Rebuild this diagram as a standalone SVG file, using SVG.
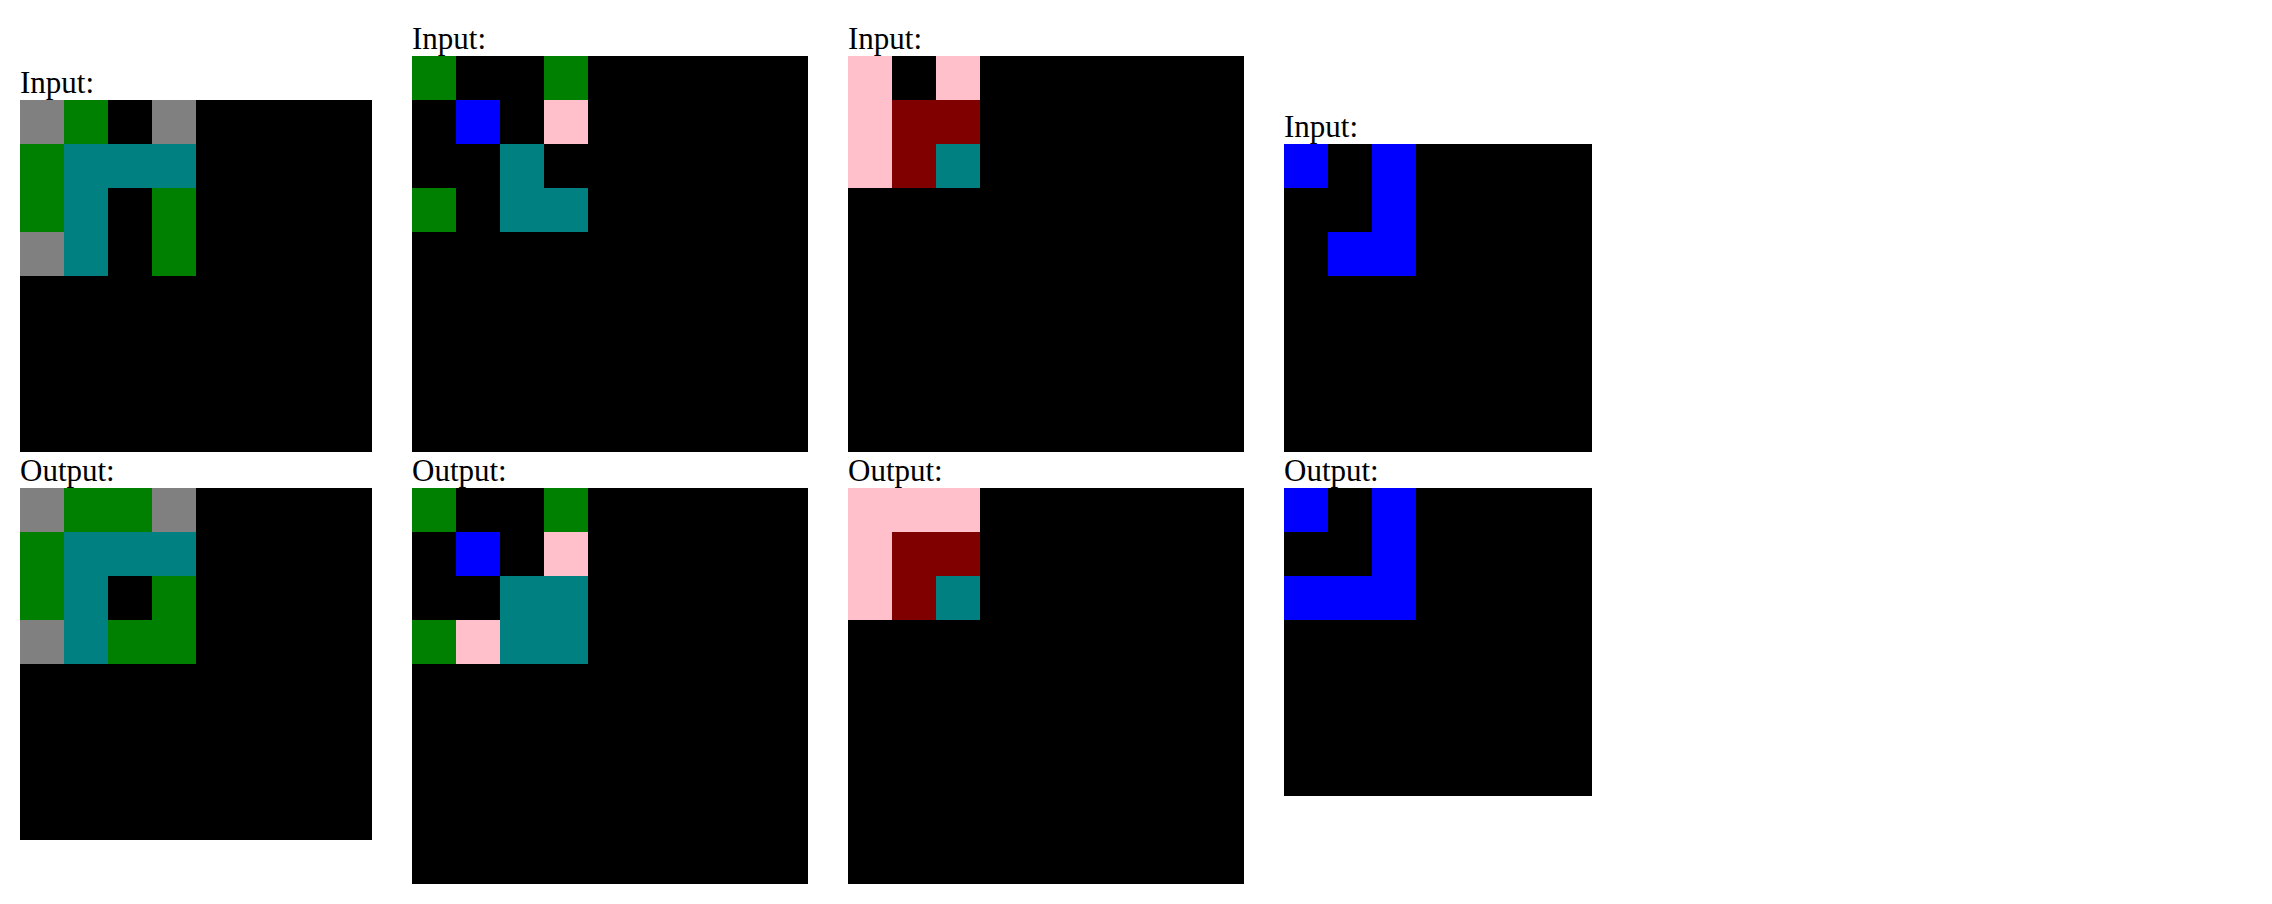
<svg xmlns="http://www.w3.org/2000/svg" width="2272" height="904" viewBox="0 0 2272 904">
<style>
text{font-family:"Liberation Serif","Times New Roman",serif;font-size:31px;fill:#000}
.k{fill:#000}.g{fill:#808080}.gr{fill:#008000}.t{fill:#008080}.b{fill:#0000FF}.p{fill:#FFC0CB}.m{fill:#800000}
</style>
<rect x="0" y="0" width="2272" height="904" fill="#fff"/>
<g id="ex1-input">
<text x="20" y="93">Input:</text>
<rect class="k" x="20" y="100" width="352" height="352"/>
<rect class="g" x="20" y="100" width="44" height="44"/>
<rect class="gr" x="64" y="100" width="44" height="44"/>
<rect class="g" x="152" y="100" width="44" height="44"/>
<rect class="gr" x="20" y="144" width="44" height="88"/>
<rect class="t" x="64" y="144" width="132" height="44"/>
<rect class="t" x="64" y="188" width="44" height="88"/>
<rect class="gr" x="152" y="188" width="44" height="88"/>
<rect class="g" x="20" y="232" width="44" height="44"/>
</g>
<g id="ex1-output">
<text x="20" y="481">Output:</text>
<rect class="k" x="20" y="488" width="352" height="352"/>
<rect class="g" x="20" y="488" width="44" height="44"/>
<rect class="gr" x="64" y="488" width="88" height="44"/>
<rect class="g" x="152" y="488" width="44" height="44"/>
<rect class="gr" x="20" y="532" width="44" height="88"/>
<rect class="t" x="64" y="532" width="132" height="44"/>
<rect class="t" x="64" y="576" width="44" height="88"/>
<rect class="gr" x="152" y="576" width="44" height="88"/>
<rect class="gr" x="108" y="620" width="44" height="44"/>
<rect class="g" x="20" y="620" width="44" height="44"/>
</g>
<g id="ex2-input">
<text x="412" y="49">Input:</text>
<rect class="k" x="412" y="56" width="396" height="396"/>
<rect class="gr" x="412" y="56" width="44" height="44"/>
<rect class="gr" x="544" y="56" width="44" height="44"/>
<rect class="b" x="456" y="100" width="44" height="44"/>
<rect class="p" x="544" y="100" width="44" height="44"/>
<rect class="t" x="500" y="144" width="44" height="88"/>
<rect class="t" x="544" y="188" width="44" height="44"/>
<rect class="gr" x="412" y="188" width="44" height="44"/>
</g>
<g id="ex2-output">
<text x="412" y="481">Output:</text>
<rect class="k" x="412" y="488" width="396" height="396"/>
<rect class="gr" x="412" y="488" width="44" height="44"/>
<rect class="gr" x="544" y="488" width="44" height="44"/>
<rect class="b" x="456" y="532" width="44" height="44"/>
<rect class="p" x="544" y="532" width="44" height="44"/>
<rect class="t" x="500" y="576" width="88" height="88"/>
<rect class="gr" x="412" y="620" width="44" height="44"/>
<rect class="p" x="456" y="620" width="44" height="44"/>
</g>
<g id="ex3-input">
<text x="848" y="49">Input:</text>
<rect class="k" x="848" y="56" width="396" height="396"/>
<rect class="p" x="848" y="56" width="44" height="132"/>
<rect class="p" x="936" y="56" width="44" height="44"/>
<rect class="m" x="892" y="100" width="88" height="44"/>
<rect class="m" x="892" y="144" width="44" height="44"/>
<rect class="t" x="936" y="144" width="44" height="44"/>
</g>
<g id="ex3-output">
<text x="848" y="481">Output:</text>
<rect class="k" x="848" y="488" width="396" height="396"/>
<rect class="p" x="848" y="488" width="132" height="44"/>
<rect class="p" x="848" y="532" width="44" height="88"/>
<rect class="m" x="892" y="532" width="88" height="44"/>
<rect class="m" x="892" y="576" width="44" height="44"/>
<rect class="t" x="936" y="576" width="44" height="44"/>
</g>
<g id="ex4-input">
<text x="1284" y="137">Input:</text>
<rect class="k" x="1284" y="144" width="308" height="308"/>
<rect class="b" x="1284" y="144" width="44" height="44"/>
<rect class="b" x="1372" y="144" width="44" height="132"/>
<rect class="b" x="1328" y="232" width="44" height="44"/>
</g>
<g id="ex4-output">
<text x="1284" y="481">Output:</text>
<rect class="k" x="1284" y="488" width="308" height="308"/>
<rect class="b" x="1284" y="488" width="44" height="44"/>
<rect class="b" x="1372" y="488" width="44" height="132"/>
<rect class="b" x="1284" y="576" width="88" height="44"/>
</g>
<g id="connectors"></g>
</svg>
